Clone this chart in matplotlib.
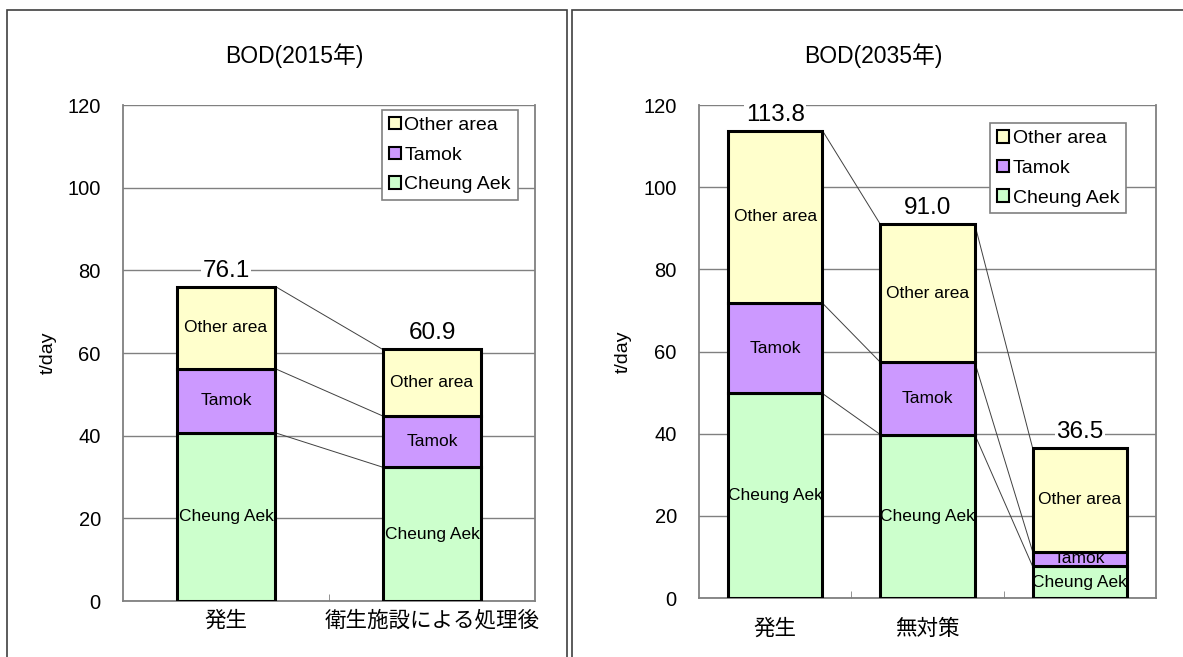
import numpy as np
import matplotlib.pyplot as plt
from matplotlib.patches import Patch, Rectangle

plt.rcParams['font.family'] = ['Liberation Sans', 'Noto Sans CJK JP', 'DejaVu Sans']

# data (t/day)
series = ['Cheung Aek', 'Tamok', 'Other area']
colors = ['#CCFFCC', '#CC99FF', '#FFFFCC']

cats_2015 = ['発生', '衛生施設による処理後']
cheung_2015 = [40.7, 32.4]
tamok_2015 = [15.5, 12.4]
other_2015 = [19.9, 16.1]
total_2015 = [76.1, 60.9]

cats_2035 = ['発生', '無対策', '']
cheung_2035 = [49.8, 39.8, 7.7]
tamok_2035 = [22.0, 17.6, 3.6]
other_2035 = [42.0, 33.6, 25.2]
total_2035 = [113.8, 91.0, 36.5]

fig = plt.figure(figsize=(11.83, 6.57), dpi=100)

# panel frames
W, H = 1183, 657
for x0, x1 in [(7, 567), (572, 1200)]:
    fig.patches.append(Rectangle((x0 / W, -0.1), (x1 - x0) / W, 1.1 - 10 / H,
                                 transform=fig.transFigure, fill=False,
                                 edgecolor='#404040', lw=1.2))


def draw(ax, cats, cheung, tamok, other, totals, width, title, tx, legpos, ylab_x, xpad):
    x = np.arange(len(cats))
    layers = [cheung, tamok, other]
    bottom = np.zeros(len(cats))
    tops = []
    for vals, col, name in zip(layers, colors, series):
        vals = np.array(vals)
        ax.bar(x, vals, width, bottom=bottom, color=col, edgecolor='black', lw=2.2, zorder=3)
        for xi, b, v in zip(x, bottom, vals):
            ax.text(xi, b + v / 2, name, ha='center', va='center', fontsize=12.5, zorder=4)
        bottom = bottom + vals
        tops.append(bottom.copy())
    # connector lines
    for t in tops:
        for i in range(len(cats) - 1):
            ax.plot([x[i] + width / 2, x[i + 1] - width / 2], [t[i], t[i + 1]],
                    color='#404040', lw=0.7, zorder=2)
    for xi, t in zip(x, totals):
        ax.text(xi, t + 1.2, '%.1f' % t, ha='center', va='bottom', fontsize=17.5, zorder=4,
                bbox=dict(facecolor='white', edgecolor='none', pad=1))
    ax.set_xlim(-0.5, len(cats) - 0.5)
    ax.set_ylim(0, 120)
    ax.set_yticks(np.arange(0, 121, 20))
    ax.set_xticks(x)
    ax.set_xticklabels(cats, fontsize=15.5)
    ax.tick_params(axis='x', length=0, pad=xpad)
    ax.set_xticks(x[:-1] + 0.5, minor=True)
    ax.tick_params(axis='x', which='minor', direction='in', length=5, color='#808080')
    ax.tick_params(axis='y', length=0, labelsize=14.5, pad=16)
    ax.grid(axis='y', color='#808080', lw=1, zorder=0)
    for s in ['left', 'bottom', 'right']:
        ax.spines[s].set_color('#808080')
        ax.spines[s].set_linewidth(1.3)
    ax.spines['top'].set_visible(False)
    ax.set_ylabel('t/day', fontsize=14)
    ax.yaxis.set_label_coords(ylab_x, 0.5)
    fig.text(tx, 0.916, title, ha='center', va='center', fontsize=16.5)
    handles = [Patch(facecolor=c, edgecolor='black', lw=1.5) for c in colors[::-1]]
    leg = ax.legend(handles, series[::-1], loc='upper left', bbox_to_anchor=legpos,
                    fancybox=False, edgecolor='#808080', fontsize=14,
                    handlelength=0.6, handleheight=0.6, handletextpad=0.2,
                    labelspacing=0.65, borderpad=0.35, borderaxespad=0, framealpha=1)
    leg.get_frame().set_linewidth(1.2)
    leg.set_zorder(5)


ax1 = fig.add_axes([0.104, 0.0852, 0.3482, 0.7548])
draw(ax1, cats_2015, cheung_2015, tamok_2015, other_2015, total_2015, 0.48,
     'BOD(2015年)', 0.249, (0.629, 0.99), -0.16, 7)

ax2 = fig.add_axes([0.5909, 0.0898, 0.3863, 0.7502])
draw(ax2, cats_2035, cheung_2035, tamok_2035, other_2035, total_2035, 0.62,
     'BOD(2035年)', 0.738, (0.637, 0.963), -0.148, 15)

fig.savefig('out.png', dpi=100)
